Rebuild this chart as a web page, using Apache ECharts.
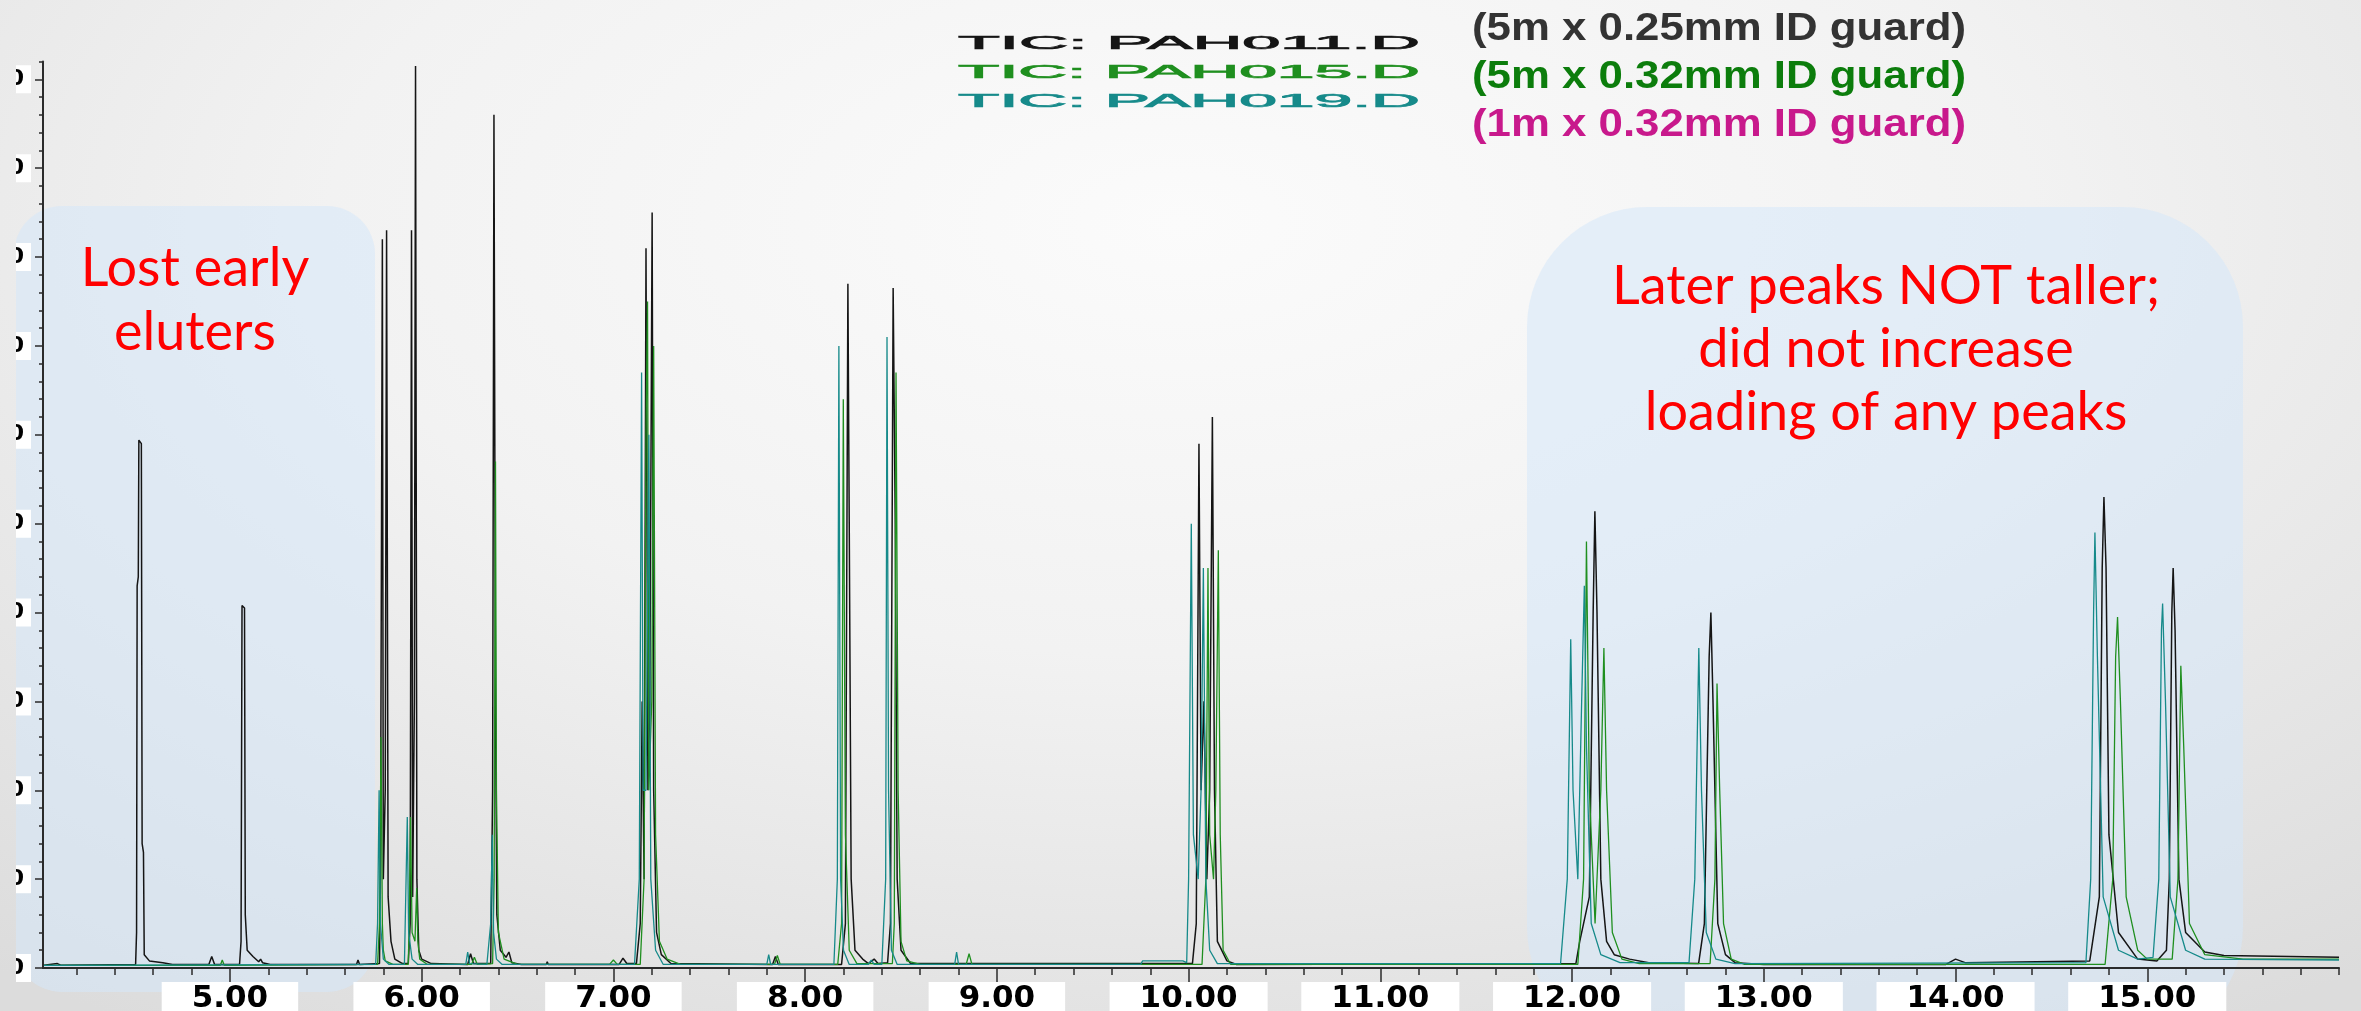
<!DOCTYPE html>
<html><head><meta charset="utf-8">
<script src="https://cdn.jsdelivr.net/npm/echarts@6/dist/echarts.min.js"></script>
<style>
html,body{margin:0;padding:0;width:2361px;height:1011px;overflow:hidden;
background: radial-gradient(ellipse 80% 95% at 50% 22%, #fbfbfb 0%, #f2f2f2 45%, #dcdcdc 100%);}
#chart{position:absolute;left:16px;top:0;width:2345px;height:1011px;}
</style></head><body><div id="chart"></div>
<script>
// ---------- data ----------
const seriesNames = ['TIC: PAH011.D', 'TIC: PAH015.D', 'TIC: PAH019.D'];
const guardNotes = ['(5m x 0.25mm ID guard)', '(5m x 0.32mm ID guard)', '(1m x 0.32mm ID guard)'];
const annotationLeft = 'Lost early\neluters';
const annotationRight = 'Later peaks NOT taller;\ndid not increase\nloading of any peaks';

const xMajorTicks = [5, 6, 7, 8, 9, 10, 11, 12, 13, 14, 15];
const xTickLabels = ['5.00', '6.00', '7.00', '8.00', '9.00', '10.00', '11.00', '12.00', '13.00', '14.00', '15.00'];
const xMinorTicks = [4.2, 4.4, 4.6, 4.8, 5.0, 5.2, 5.4, 5.6, 5.8, 6.0, 6.2, 6.4, 6.6, 6.8, 7.0, 7.2, 7.4, 7.6, 7.8, 8.0,
  8.2, 8.4, 8.6, 8.8, 9.0, 9.2, 9.4, 9.6, 9.8, 10.0, 10.2, 10.4, 10.6, 10.8, 11.0, 11.2, 11.4, 11.6, 11.8, 12.0,
  12.2, 12.4, 12.6, 12.8, 13.0, 13.2, 13.4, 13.6, 13.8, 14.0, 14.2, 14.4, 14.6, 14.8, 15.0, 15.2, 15.4, 15.6, 15.8, 16.0];
const yMajorTicks = [0, 10, 20, 30, 40, 50, 60, 70, 80, 90, 100];
const yTickLabels = ['0', '10', '20', '30', '40', '50', '60', '70', '80', '90', '100'];

// [retention time (min), abundance]
const tic011 = [
  [4.03, 0.3], [4.10, 0.5], [4.12, 0.3],
  [4.508, 0.4], [4.513, 4], [4.516, 43], [4.522, 44], [4.525, 59.4], [4.538, 59], [4.542, 14], [4.549, 13], [4.553, 1.5], [4.58, 0.8], [4.65, 0.6], [4.70, 0.4],
  [4.89, 0.4], [4.905, 1.3], [4.92, 0.4],
  [5.05, 0.4], [5.058, 3], [5.063, 40.8], [5.076, 40.5], [5.08, 6], [5.09, 2], [5.12, 1.3], [5.15, 0.7], [5.16, 1.0], [5.17, 0.6], [5.21, 0.4],
  [5.66, 0.4], [5.668, 0.9], [5.676, 0.4],
  [5.78, 0.5], [5.785, 10], [5.795, 82], [5.80, 10], [5.81, 20], [5.817, 83], [5.825, 8], [5.84, 3], [5.86, 1], [5.90, 0.5],
  [5.93, 0.5], [5.94, 5], [5.947, 83], [5.953, 8], [5.962, 30], [5.968, 101.5], [5.975, 10], [5.985, 2], [6.00, 1], [6.05, 0.5],
  [6.24, 0.4], [6.255, 1.6], [6.27, 0.5],
  [6.36, 0.5], [6.37, 20], [6.377, 96], [6.385, 30], [6.392, 6], [6.41, 2], [6.44, 1.2], [6.455, 1.8], [6.47, 0.6], [6.52, 0.4],
  [6.65, 0.4], [6.655, 0.7], [6.66, 0.4], [7.03, 0.4], [7.05, 1.1], [7.07, 0.5],
  [7.12, 0.5], [7.14, 5], [7.15, 30], [7.16, 10], [7.17, 81], [7.18, 20], [7.19, 30], [7.202, 85], [7.21, 20], [7.225, 4], [7.25, 1.5], [7.30, 0.5],
  [7.83, 0.4], [7.845, 1.3], [7.86, 0.4],
  [8.19, 0.4], [8.21, 5], [8.223, 77], [8.23, 50], [8.24, 10], [8.26, 2], [8.30, 1], [8.33, 0.5], [8.36, 1.0], [8.38, 0.5],
  [8.43, 0.6], [8.445, 5], [8.459, 76.5], [8.47, 50], [8.48, 10], [8.50, 2], [8.55, 0.5],
  [10.02, 0.5], [10.04, 5], [10.054, 59], [10.065, 20], [10.08, 30], [10.095, 10], [10.11, 20], [10.124, 62], [10.135, 20], [10.15, 3], [10.20, 0.8], [10.25, 0.4],
  [12.02, 0.5], [12.04, 3], [12.09, 8], [12.11, 40], [12.119, 51.4], [12.13, 40], [12.15, 10], [12.18, 3], [12.22, 1.5], [12.30, 1], [12.40, 0.6],
  [12.66, 0.5], [12.69, 5], [12.715, 35], [12.724, 40], [12.735, 30], [12.76, 5], [12.80, 1.5], [12.85, 0.6], [13.0, 0.4],
  [13.95, 0.4], [14.0, 1.0], [14.05, 0.6], [14.70, 0.8],
  [14.75, 8], [14.765, 45], [14.774, 53], [14.785, 45], [14.80, 15], [14.85, 4], [14.95, 1], [15.05, 0.8],
  [15.10, 2], [15.115, 10], [15.128, 40], [15.135, 45], [15.145, 38], [15.165, 10], [15.20, 4], [15.30, 1.8], [15.40, 1.4], [16.0, 1.2]
];
const tic015 = [
  [4.03, 0.3], [4.95, 0.3], [4.96, 0.9], [4.97, 0.3],
  [5.77, 0.4], [5.78, 5], [5.788, 26], [5.795, 5], [5.80, 2], [5.81, 0.8], [5.85, 0.4],
  [5.93, 0.4], [5.935, 5], [5.942, 17], [5.95, 4], [5.965, 3], [5.974, 9], [5.98, 3], [5.99, 1], [6.03, 0.4],
  [6.26, 0.4], [6.275, 1.2], [6.29, 0.4],
  [6.37, 0.5], [6.378, 10], [6.385, 57], [6.39, 20], [6.40, 4], [6.43, 1], [6.50, 0.4],
  [6.98, 0.4], [7.00, 0.9], [7.02, 0.4],
  [7.14, 0.4], [7.16, 10], [7.17, 60], [7.178, 75], [7.185, 20], [7.20, 30], [7.21, 70], [7.22, 15], [7.24, 3], [7.28, 1], [7.35, 0.4],
  [7.84, 0.4], [7.855, 1.4], [7.87, 0.4],
  [8.17, 0.4], [8.19, 5], [8.199, 64], [8.21, 15], [8.23, 2], [8.27, 0.5],
  [8.455, 0.5], [8.465, 5], [8.474, 67], [8.485, 20], [8.50, 3], [8.53, 0.8], [8.60, 0.4],
  [8.84, 0.4], [8.855, 1.6], [8.87, 0.4],
  [10.07, 0.4], [10.09, 10], [10.101, 45], [10.11, 15], [10.13, 10], [10.142, 20], [10.155, 47], [10.165, 15], [10.18, 2], [10.22, 0.4],
  [12.03, 0.4], [12.06, 10], [12.075, 48], [12.09, 20], [12.12, 5], [12.15, 20], [12.166, 36], [12.18, 20], [12.21, 4], [12.26, 1], [12.35, 0.5],
  [12.72, 0.5], [12.745, 10], [12.756, 32], [12.77, 20], [12.79, 5], [12.83, 1], [12.90, 0.4],
  [14.78, 0.4], [14.82, 10], [14.835, 35], [14.845, 39.5], [14.86, 30], [14.89, 8], [14.95, 2], [15.0, 1], [15.13, 1],
  [15.16, 10], [15.175, 34], [15.19, 25], [15.22, 5], [15.30, 1.5], [15.50, 1], [16.0, 1]
];
const tic019 = [
  [4.03, 0.3], [5.74, 0.4],
  [5.76, 0.4], [5.77, 5], [5.778, 20], [5.785, 5], [5.80, 1], [5.83, 0.4],
  [5.91, 0.4], [5.925, 17], [5.932, 4], [5.95, 1], [5.98, 0.4],
  [6.23, 0.4], [6.24, 1.8], [6.25, 0.5],
  [6.34, 0.4], [6.36, 5], [6.368, 15], [6.375, 4], [6.39, 1], [6.42, 0.4],
  [7.11, 0.4], [7.135, 10], [7.147, 67], [7.155, 20], [7.17, 20], [7.185, 60], [7.195, 10], [7.22, 2], [7.26, 0.4],
  [7.80, 0.4], [7.81, 1.5], [7.82, 0.4],
  [8.15, 0.4], [8.168, 10], [8.176, 70], [8.185, 10], [8.20, 2], [8.23, 0.4], [8.33, 0.4], [8.345, 0.9], [8.36, 0.4],
  [8.40, 0.4], [8.42, 10], [8.427, 71], [8.435, 20], [8.45, 2], [8.48, 0.4],
  [8.78, 0.4], [8.79, 1.8], [8.80, 0.4],
  [9.75, 0.4], [9.76, 0.8], [9.97, 0.8], [9.99, 0.6], [10.00, 10], [10.014, 50], [10.025, 15], [10.05, 10], [10.065, 20], [10.077, 45], [10.09, 10], [10.11, 2], [10.15, 0.5],
  [11.94, 0.5], [11.975, 10], [11.993, 37], [12.005, 20], [12.03, 10], [12.05, 30], [12.064, 43], [12.075, 25], [12.10, 5], [12.15, 1.5], [12.25, 0.6],
  [12.61, 0.6], [12.64, 10], [12.661, 36], [12.675, 20], [12.70, 4], [12.75, 1], [12.85, 0.5],
  [14.68, 0.6], [14.705, 10], [14.72, 40], [14.727, 49], [14.74, 35], [14.77, 8], [14.85, 2], [14.95, 1], [15.03, 1.2],
  [15.06, 10], [15.074, 38], [15.08, 41], [15.095, 30], [15.12, 8], [15.20, 2], [15.30, 1], [16.0, 0.9]
];

// ---------- styling ----------
const OX = 16; // chart container left offset on page
const lineColors = ['#151515', '#1f8f1f', '#168a8a'];
const noteColors = ['#333333', '#0c7d0c', '#c8198c'];

function fitScale(text, font, target) {
  const c = document.createElement('canvas').getContext('2d');
  c.font = font;
  return target / c.measureText(text).width;
}

const chart = echarts.init(document.getElementById('chart'), null, {renderer: 'canvas'});

const legendFont = '19px "Liberation Sans", Arial, sans-serif';
const noteFont = 'bold 38px "Liberation Sans Narrow", "Liberation Sans", sans-serif';
const annFont = '54px Lato, "Noto Sans", sans-serif';

const graphics = [
  {type: 'rect', z: -10, shape: {x: 14 - OX, y: 206, width: 361, height: 786, r: 48},
    style: {fill: 'rgba(214,232,250,0.55)'}},
  {type: 'rect', z: -10, shape: {x: 1527 - OX, y: 207, width: 716, height: 840, r: 120},
    style: {fill: 'rgba(214,232,250,0.55)'}},
  {type: 'text', z: 5, x: 195 - OX, y: 301, style: {text: annotationLeft, font: annFont, fill: '#ff0000', align: 'center', verticalAlign: 'middle', lineHeight: 64}},
  {type: 'text', z: 5, x: 1886 - OX, y: 350, style: {text: annotationRight, font: annFont, fill: '#ff0000', align: 'center', verticalAlign: 'middle', lineHeight: 63}}
];
const legendY = [44, 73, 102];
const noteY = [30, 78, 126];
seriesNames.forEach((n, i) => {
  graphics.push({type: 'text', z: 5, x: 958 - OX, y: legendY[i], scaleX: fitScale(n, legendFont, 462),
    style: {text: n, font: legendFont, fill: lineColors[i], stroke: lineColors[i], lineWidth: 0.7, verticalAlign: 'middle'}});
});
guardNotes.forEach((n, i) => {
  graphics.push({type: 'text', z: 5, x: 1472 - OX, y: noteY[i], scaleX: fitScale(n, noteFont, 494),
    style: {text: n, font: noteFont, fill: noteColors[i], verticalAlign: 'middle'}});
});

const axisColor = '#2b2b2b';
const option = {
  animation: false,
  grid: {left: 27, right: 22, top: 61.5, bottom: 43, containLabel: false, outerBoundsMode: 'none'},
  xAxis: [
    {type: 'value', min: 4.025, max: 16, position: 'bottom',
      axisLine: {show: true, lineStyle: {color: axisColor, width: 2}},
      axisTick: {show: true, customValues: xMinorTicks, length: 7, lineStyle: {color: axisColor, width: 1.5}},
      axisLabel: {show: false}, splitLine: {show: false}},
    {type: 'value', min: 4.025, max: 16, position: 'bottom',
      axisLine: {show: false},
      axisTick: {show: true, customValues: xMajorTicks, length: 15, lineStyle: {color: axisColor, width: 1.5}},
      axisLabel: {show: true, customValues: xMajorTicks, margin: 14, hideOverlap: false,
        formatter: v => xTickLabels[xMajorTicks.indexOf(Math.round(v))],
        fontFamily: '"DejaVu Sans", sans-serif', fontWeight: 'bold', fontSize: 31, color: '#000', lineHeight: 31,
        backgroundColor: '#ffffff', padding: [1, 30, 1, 30]},
      splitLine: {show: false}}
  ],
  yAxis: [
    {type: 'value', min: 0, max: 102, interval: 2, position: 'left',
      axisLine: {show: true, lineStyle: {color: axisColor, width: 2}},
      axisTick: {show: true, length: 4, lineStyle: {color: axisColor, width: 1.5}},
      axisLabel: {show: true, customValues: yMajorTicks, margin: 12, hideOverlap: false,
        formatter: v => yTickLabels[yMajorTicks.indexOf(Math.round(v))],
        fontFamily: '"DejaVu Sans", sans-serif', fontWeight: 'bold', fontSize: 22, color: '#000',
        backgroundColor: '#ffffff', padding: [3, 7, 3, 10]},
      splitLine: {show: false}},
    {type: 'value', min: 0, max: 102, position: 'left',
      axisLine: {show: false},
      axisTick: {show: true, customValues: yMajorTicks, length: 8, lineStyle: {color: axisColor, width: 1.5}},
      axisLabel: {show: false}, splitLine: {show: false}}
  ],
  graphic: graphics,
  series: [
    {name: seriesNames[0], type: 'line', data: tic011, showSymbol: false, z: 3,
      lineStyle: {color: lineColors[0], width: 1.5}, xAxisIndex: 0, yAxisIndex: 0},
    {name: seriesNames[1], type: 'line', data: tic015, showSymbol: false, z: 4,
      lineStyle: {color: lineColors[1], width: 1.3}, xAxisIndex: 0, yAxisIndex: 0},
    {name: seriesNames[2], type: 'line', data: tic019, showSymbol: false, z: 5,
      lineStyle: {color: lineColors[2], width: 1.3}, xAxisIndex: 0, yAxisIndex: 0}
  ]
};
chart.setOption(option);
</script></body></html>
